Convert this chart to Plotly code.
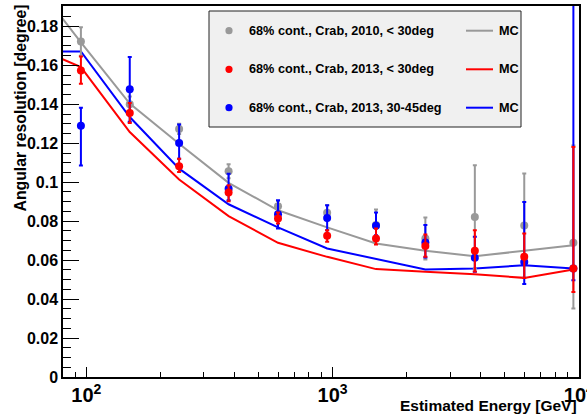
import plotly.graph_objects as go

# ---------------- data ----------------
energy = [95, 150, 238, 378, 600, 950, 1500, 2380, 3780, 6000, 9500]
mc_energy = [60, 95, 150, 238, 378, 600, 950, 1500, 2380, 3780, 6000, 9500]

gray_val = [0.1723, 0.1400, 0.1274, 0.1056, 0.0877, 0.0843, 0.0780, 0.0711, 0.0822, 0.0778, 0.0689]
gray_up = [0.0073, 0.0040, 0.0026, 0.0036, 0.0027, 0.0039, 0.0080, 0.0108, 0.0265, 0.0267, 0.0500]
gray_dn = [0.0073, 0.0040, 0.0026, 0.0036, 0.0027, 0.0039, 0.0080, 0.0108, 0.0265, 0.0267, 0.0337]

red_val = [0.1574, 0.1355, 0.1082, 0.0947, 0.0814, 0.0725, 0.0711, 0.0673, 0.0648, 0.0617, 0.0557]
red_up = [0.0072, 0.0052, 0.0039, 0.0038, 0.0031, 0.0029, 0.0051, 0.0059, 0.0106, 0.0120, 0.0624]
red_dn = [0.0068, 0.0051, 0.0029, 0.0044, 0.0026, 0.0031, 0.0031, 0.0056, 0.0106, 0.0109, 0.0120]

blue_val = [0.1290, 0.1477, 0.1202, 0.0967, 0.0836, 0.0817, 0.0776, 0.0690, 0.0612, 0.0591, 0.0557]
blue_up = [0.0093, 0.0166, 0.0095, 0.0077, 0.0072, 0.0065, 0.0069, 0.0090, 0.0108, 0.0308, 0.2000]
blue_dn = [0.0204, 0.0166, 0.0081, 0.0059, 0.0074, 0.0063, 0.0048, 0.0076, 0.0072, 0.0114, 0.0060]

gray_mc = [0.2046, 0.1718, 0.1404, 0.1198, 0.0997, 0.0856, 0.0768, 0.0686, 0.0648, 0.0620, 0.0648, 0.0677]
red_mc = [0.1700, 0.1591, 0.1258, 0.1014, 0.0826, 0.0689, 0.0617, 0.0554, 0.0540, 0.0527, 0.0509, 0.0552]
blue_mc = [0.1672, 0.1672, 0.1335, 0.1070, 0.0887, 0.0768, 0.0660, 0.0605, 0.0552, 0.0557, 0.0574, 0.0557]

ytick_vals = [0, 0.02, 0.04, 0.06, 0.08, 0.1, 0.12, 0.14, 0.16, 0.18]
ytick_text = ["0", "0.02", "0.04", "0.06", "0.08", "0.1", "0.12", "0.14", "0.16", "0.18"]

legend_labels = ["68% cont., Crab, 2010, < 30deg",
                 "68% cont., Crab, 2013, < 30deg",
                 "68% cont., Crab, 2013, 30-45deg"]
mc_label = "MC"

GRAY = "#999999"
RED = "#ff0000"
BLUE = "#0000ff"
FONT = "Liberation Sans"

W, H = 587, 416
ML, MR, MT, MB = 63, 8, 6, 39
PW, PH = W - ML - MR, H - MT - MB


def px(x):
    return (x - ML) / PW


def py(y):
    return (H - MB - y) / PH


fig = go.Figure()

# MC lines
for vals, col in [(gray_mc, GRAY), (red_mc, RED), (blue_mc, BLUE)]:
    fig.add_trace(go.Scatter(x=mc_energy, y=vals, mode="lines",
                             line=dict(color=col, width=2), showlegend=False,
                             hoverinfo="skip"))

# data points
for vals, up, dn, col in [(gray_val, gray_up, gray_dn, GRAY),
                          (blue_val, blue_up, blue_dn, BLUE),
                          (red_val, red_up, red_dn, RED)]:
    fig.add_trace(go.Scatter(x=energy, y=vals, mode="markers",
                             marker=dict(color=col, size=8, symbol="circle"),
                             error_y=dict(type="data", symmetric=False, array=up,
                                          arrayminus=dn, color=col, thickness=2, width=2),
                             showlegend=False))

shapes = []
annotations = []

# legend box
lx0, lx1, ly0, ly1 = 209, 521, 11, 127
shapes.append(dict(type="rect", xref="paper", yref="paper",
                   x0=px(lx0), x1=px(lx1), y0=py(ly1), y1=py(ly0),
                   fillcolor="#f0f0f0", line=dict(color="#222222", width=1), layer="above"))
rows = [30.7, 69.3, 107.7]
cols = [GRAY, RED, BLUE]
for ry, col, lab in zip(rows, cols, legend_labels):
    shapes.append(dict(type="circle", xref="paper", yref="paper",
                       x0=px(229 - 3.6), x1=px(229 + 3.6), y0=py(ry + 3.6), y1=py(ry - 3.6),
                       fillcolor=col, line=dict(color=col, width=0), layer="above"))
    shapes.append(dict(type="line", xref="paper", yref="paper",
                       x0=px(466), x1=px(493), y0=py(ry), y1=py(ry),
                       line=dict(color=col, width=2), layer="above"))
    annotations.append(dict(x=px(247), y=py(ry), xref="paper", yref="paper",
                            text=lab, showarrow=False, xanchor="left", yanchor="middle",
                            font=dict(family=FONT, size=12.7, color="black", weight="bold")))
    annotations.append(dict(x=px(497), y=py(ry), xref="paper", yref="paper",
                            text=mc_label, showarrow=False, xanchor="left", yanchor="middle",
                            font=dict(family=FONT, size=12.7, color="black", weight="bold")))

# axis titles
annotations.append(dict(x=px(579), y=py(406), xref="paper", yref="paper",
                        text="Estimated Energy [GeV]", showarrow=False,
                        xanchor="right", yanchor="middle",
                        font=dict(family=FONT, size=15.5, color="black", weight="bold")))
annotations.append(dict(x=px(20), y=py(3), xref="paper", yref="paper",
                        text="Angular resolution [degree]", showarrow=False, textangle=-90,
                        xanchor="center", yanchor="top",
                        font=dict(family=FONT, size=15.8, color="black", weight="bold")))

fig.update_layout(
    width=W, height=H,
    margin=dict(l=ML, r=MR, t=MT, b=MB, autoexpand=False),
    paper_bgcolor="white", plot_bgcolor="white",
    shapes=shapes, annotations=annotations,
    showlegend=False,
)

fig.update_xaxes(type="log", range=[1.905, 4.0005], dtick=1, exponentformat="power",
                 ticks="inside", ticklen=10, tickwidth=1, tickcolor="black",
                 ticklabeloverflow="allow", automargin=False,
                 showgrid=False, zeroline=False,
                 showline=True, linecolor="black", linewidth=1.5, mirror=True,
                 tickfont=dict(family=FONT, size=16, color="black", weight="bold"),
                 minor=dict(ticks="inside", ticklen=5, tickcolor="black", dtick="D1",
                            showgrid=False))
fig.update_yaxes(range=[0, 0.1905], tickvals=ytick_vals, ticktext=ytick_text,
                 ticks="inside", ticklen=16, tickwidth=1, tickcolor="black",
                 automargin=False,
                 showgrid=False, zeroline=False,
                 showline=True, linecolor="black", linewidth=1.5, mirror=True,
                 tickfont=dict(family=FONT, size=16, color="black", weight="bold"),
                 minor=dict(ticks="inside", ticklen=8, tickcolor="black", dtick=0.005,
                            tick0=0, showgrid=False))

fig.write_html("out.html", config={"displayModeBar": False},
               post_script="document.body.style.margin='0';document.body.style.padding='0';")
